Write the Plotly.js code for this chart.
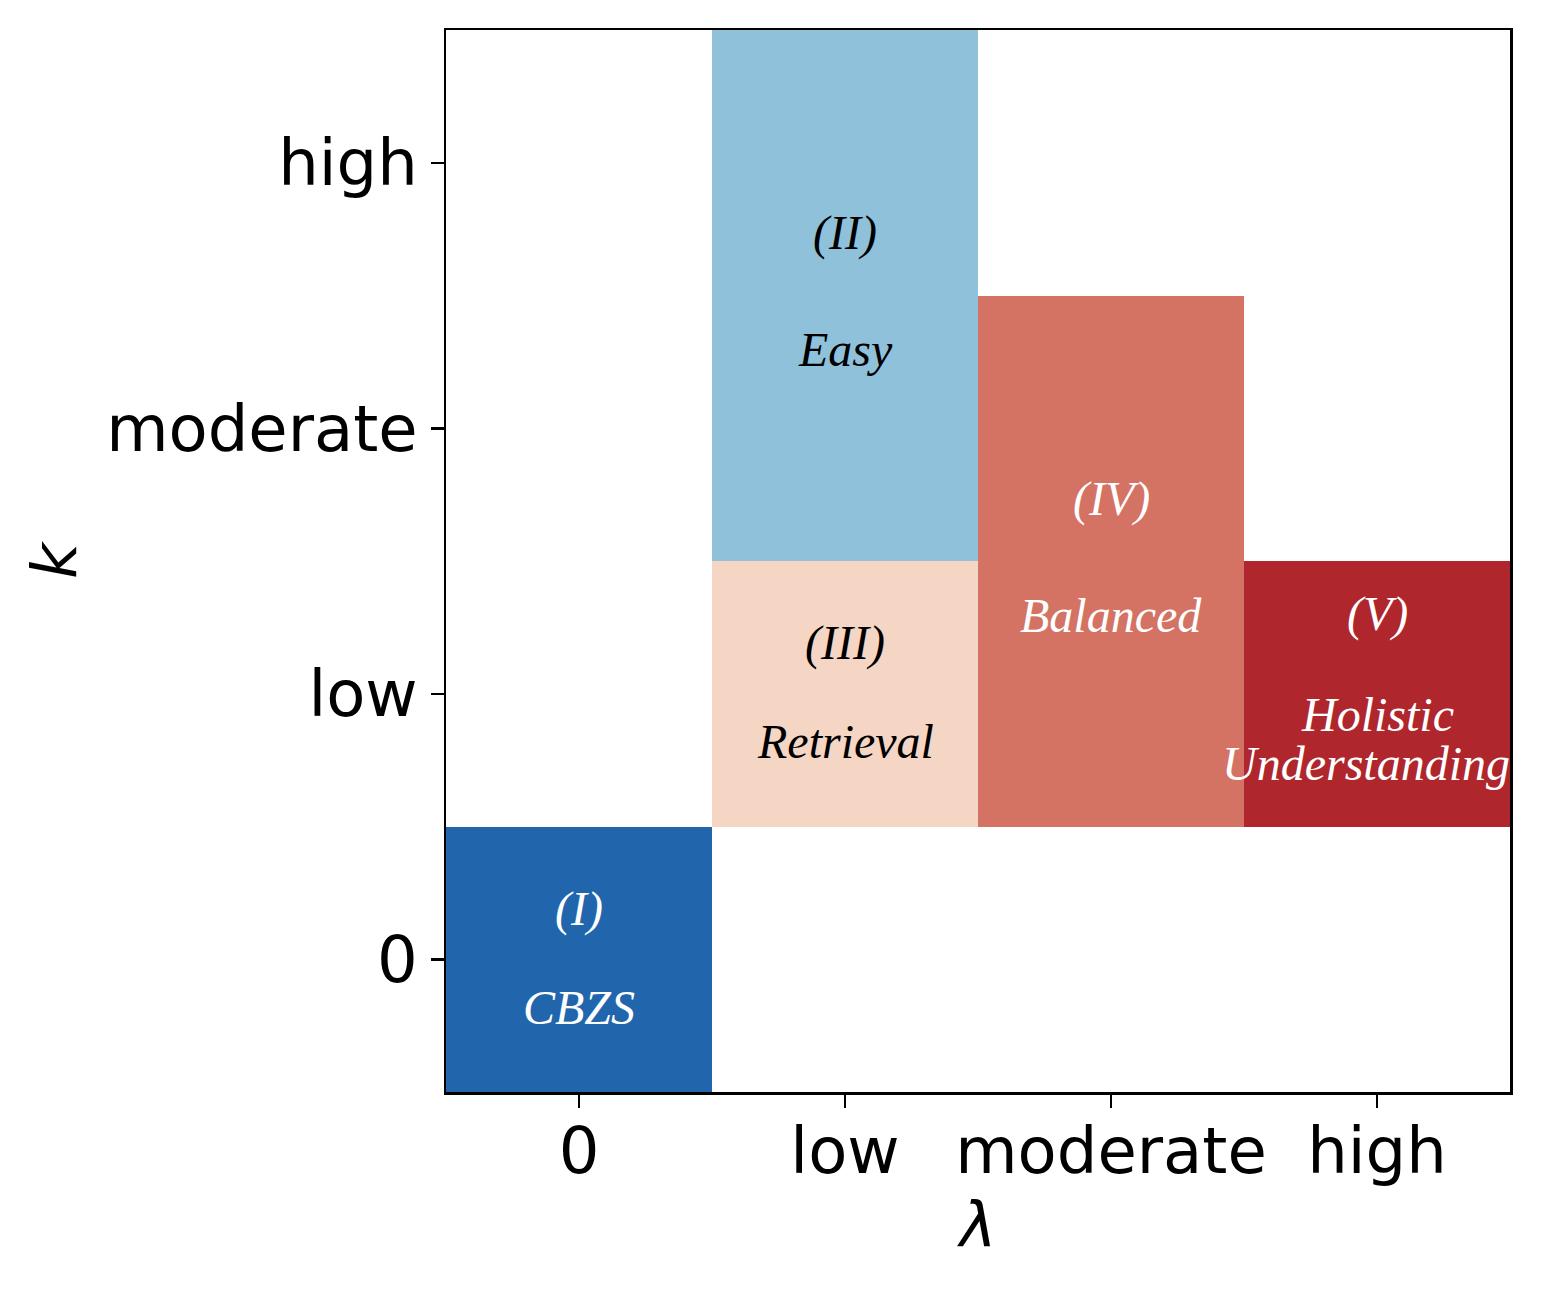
<!DOCTYPE html>
<html>
<head>
<meta charset="utf-8">
<script src="https://cdn.plot.ly/plotly-3.0.1.min.js"></script>
<style>html,body{margin:0;padding:0;background:#fff;}</style>
</head>
<body>
<div id="chart" style="width:1563px;height:1290px;"></div>
<script>
// Axis categories
const lambdaLevels = ['0', 'low', 'moderate', 'high'];
const kLevels = ['0', 'low', 'moderate', 'high'];

// Regions
const regionRoman = ['(I)', '(II)', '(III)', '(IV)', '(V)'];
const regionNames = ['CBZS', 'Easy', 'Retrieval', 'Balanced', 'Holistic\nUnderstanding'];
const regionLambda = ['0', 'low', 'low', 'moderate', 'high'];
const regionKFrom = ['0', 'moderate', 'low', 'low', 'low'];
const regionKTo = ['0', 'high', 'low', 'moderate', 'low'];
const regionColors = ['#2166ac', '#8fc1da', '#f5d5c3', '#d47264', '#af262d'];
const regionTextColors = ['#ffffff', '#000000', '#000000', '#ffffff', '#ffffff'];

// Build heatmap matrix from regions
const z = kLevels.map(() => lambdaLevels.map(() => null));
regionRoman.forEach((_, i) => {
  const xi = lambdaLevels.indexOf(regionLambda[i]);
  const y0 = kLevels.indexOf(regionKFrom[i]);
  const y1 = kLevels.indexOf(regionKTo[i]);
  for (let yi = y0; yi <= y1; yi++) z[yi][xi] = i;
});

const n = regionColors.length;
const colorscale = [];
regionColors.forEach((c, i) => {
  colorscale.push([i / n, c]);
  colorscale.push([(i + 1) / n, c]);
});

const trace = {
  type: 'heatmap',
  x: lambdaLevels,
  y: kLevels,
  z: z,
  zmin: -0.5,
  zmax: n - 0.5,
  colorscale: colorscale,
  showscale: false,
  hoverongaps: false,
  xgap: 0, ygap: 0
};

// text placement (style only)
const lineShift = {'Understanding': -11};
const annotations = [];
regionRoman.forEach((r, i) => {
  const xi = lambdaLevels.indexOf(regionLambda[i]);
  const y0 = kLevels.indexOf(regionKFrom[i]);
  const y1 = kLevels.indexOf(regionKTo[i]);
  const c = (y0 + y1) / 2;
  const h = y1 - y0 + 1;
  const lines = regionNames[i].split('\n');
  const nLines = lines.length;
  const font = {family: 'Liberation Serif, Times New Roman, serif', size: 48, color: regionTextColors[i], style: 'italic'};
  annotations.push({x: xi, y: c + 0.19 + 0.045 * (h - 1) + 0.11 * (nLines - 1), xref: 'x', yref: 'y',
    text: r, showarrow: false, font: font});
  const blockC = c - 0.18 - 0.025 * (h - 1) + 0.01 * (nLines - 1);
  const gap = 0.185;
  lines.forEach((ln, j) => {
    annotations.push({x: xi, y: blockC + ((nLines - 1) / 2 - j) * gap, xref: 'x', yref: 'y',
      text: ln, showarrow: false, font: font, xshift: lineShift[ln] || 0});
  });
});

const axisCommon = {
  type: 'category',
  showline: true, linecolor: '#000', linewidth: 2.5, mirror: true,
  ticks: 'outside', ticklen: 13, tickwidth: 2.5, tickcolor: '#000',
  showgrid: false, zeroline: false,
  tickfont: {family: 'DejaVu Sans, sans-serif', size: 64, color: '#000'},
  range: [-0.5, 3.5], fixedrange: true
};

const layout = {
  width: 1563, height: 1290,
  margin: {l: 446, r: 53, t: 30, b: 198},
  paper_bgcolor: '#fff', plot_bgcolor: '#fff',
  showlegend: false,
  xaxis: Object.assign({}, axisCommon, {
    categoryorder: 'array', categoryarray: lambdaLevels,
    ticklabelstandoff: -11,
    title: {text: 'λ', standoff: 14, font: {family: 'DejaVu Sans, sans-serif', size: 62, color: '#000', style: 'italic'}}
  }),
  yaxis: Object.assign({}, axisCommon, {
    categoryorder: 'array', categoryarray: kLevels,
    title: {text: 'k', standoff: 10, font: {family: 'DejaVu Sans, sans-serif', size: 62, color: '#000', style: 'italic'}}
  }),
  annotations: annotations
};

Plotly.newPlot('chart', [trace], layout, {staticPlot: true, displayModeBar: false});
</script>
</body>
</html>
